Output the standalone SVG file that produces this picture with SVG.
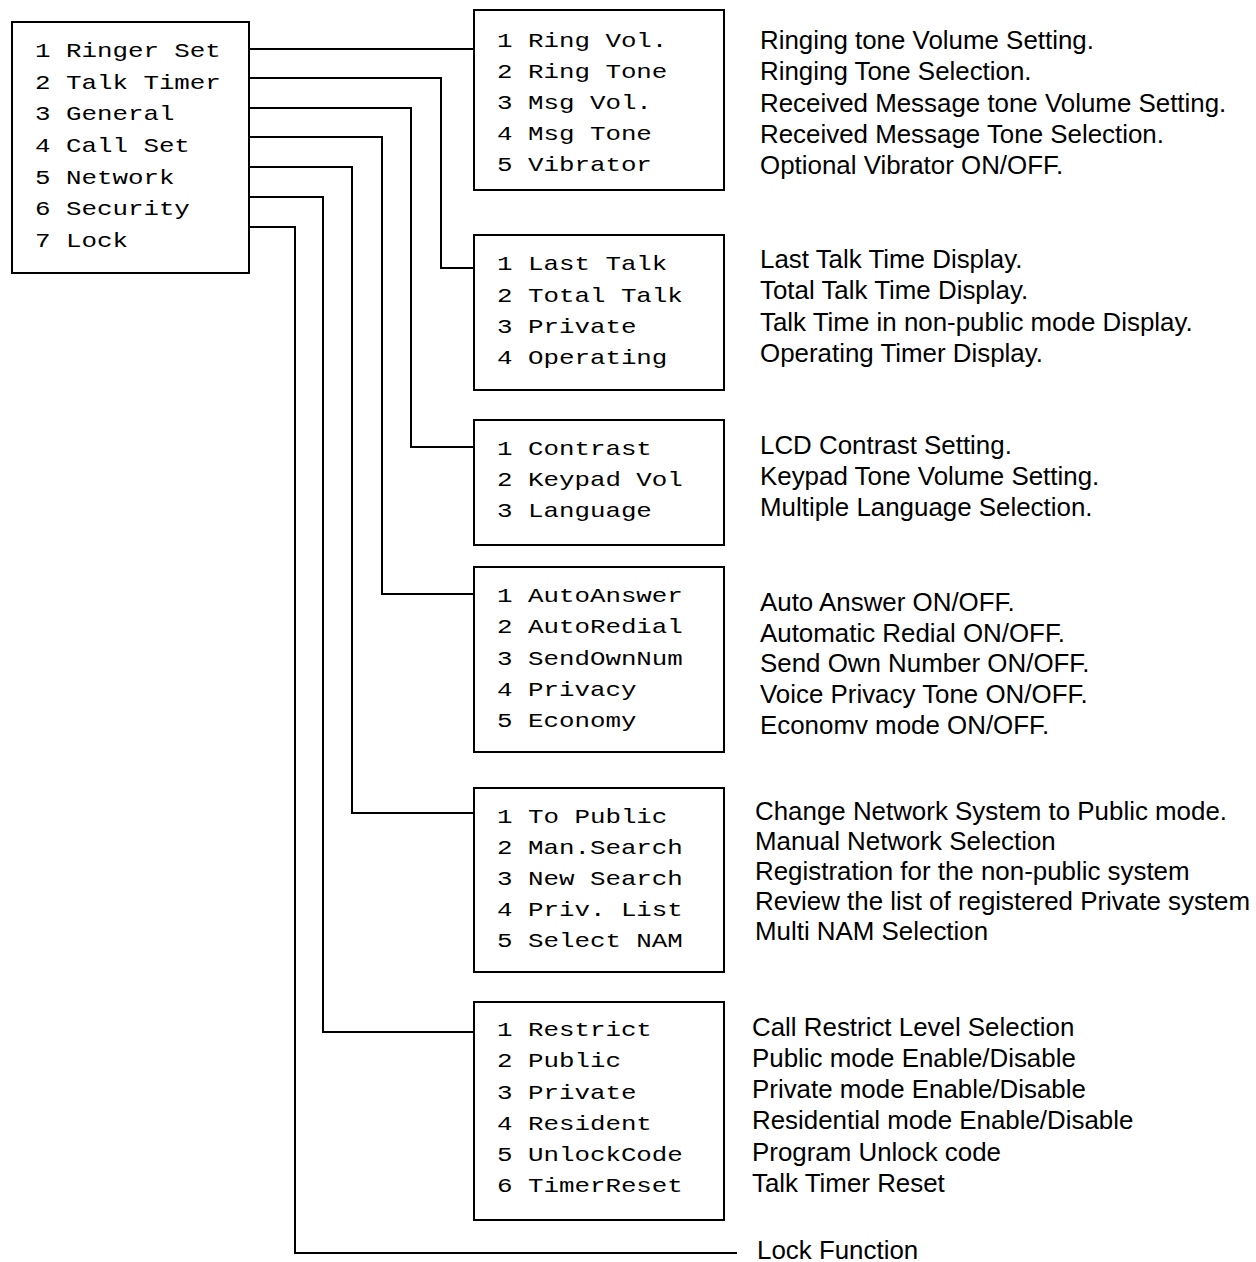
<svg xmlns="http://www.w3.org/2000/svg" width="1256" height="1262" viewBox="0 0 1256 1262">
  <style>
    .box { fill: #fff; stroke: #000; stroke-width: 2; }
    .wire { fill: none; stroke: #000; stroke-width: 2; }
    .lcd { font-family: "Liberation Mono", "DejaVu Sans Mono", monospace; font-size: 21px; fill: #000; }
    .desc { font-family: "Liberation Sans", Arial, sans-serif; font-size: 25.9px; fill: #000; }
  </style>

  <!-- connectors from the main menu to each sub-menu -->
  <g id="connectors">
    <path class="wire" d="M249,49 H474"/>
    <path class="wire" d="M249,78 H441 V268 H474"/>
    <path class="wire" d="M249,108 H411 V447 H474"/>
    <path class="wire" d="M249,137 H382 V594 H474"/>
    <path class="wire" d="M249,167 H352 V813 H474"/>
    <path class="wire" d="M249,197 H323 V1032 H474"/>
    <path class="wire" d="M249,227 H295 V1253 H737"/>
  </g>

  <!-- main menu (LCD lines are widened to the display's character pitch) -->
  <g id="main-menu">
    <rect class="box" x="12" y="22" width="237" height="251"/>
    <g transform="translate(35,0) scale(1.23,1)">
      <text class="lcd" x="0" y="57">1 Ringer Set</text>
      <text class="lcd" x="0" y="89">2 Talk Timer</text>
      <text class="lcd" x="0" y="120">3 General</text>
      <text class="lcd" x="0" y="152">4 Call Set</text>
      <text class="lcd" x="0" y="184">5 Network</text>
      <text class="lcd" x="0" y="215">6 Security</text>
      <text class="lcd" x="0" y="247">7 Lock</text>
    </g>
  </g>

  <!-- 1 Ringer Set -->
  <g id="ringer-set">
    <rect class="box" x="474" y="10" width="250" height="180"/>
    <g transform="translate(497,0) scale(1.23,1)">
      <text class="lcd" x="0" y="47">1 Ring Vol.</text>
      <text class="lcd" x="0" y="78">2 Ring Tone</text>
      <text class="lcd" x="0" y="109">3 Msg Vol.</text>
      <text class="lcd" x="0" y="140">4 Msg Tone</text>
      <text class="lcd" x="0" y="171">5 Vibrator</text>
    </g>
  </g>
  <g id="ringer-set-desc">
    <text class="desc" x="760" y="49">Ringing tone Volume Setting.</text>
    <text class="desc" x="760" y="80">Ringing Tone Selection.</text>
    <text class="desc" x="760" y="112">Received Message tone Volume Setting.</text>
    <text class="desc" x="760" y="143">Received Message Tone Selection.</text>
    <text class="desc" x="760" y="174">Optional Vibrator ON/OFF.</text>
  </g>

  <!-- 2 Talk Timer -->
  <g id="talk-timer">
    <rect class="box" x="474" y="235" width="250" height="155"/>
    <g transform="translate(497,0) scale(1.23,1)">
      <text class="lcd" x="0" y="270">1 Last Talk</text>
      <text class="lcd" x="0" y="302">2 Total Talk</text>
      <text class="lcd" x="0" y="333">3 Private</text>
      <text class="lcd" x="0" y="364">4 Operating</text>
    </g>
  </g>
  <g id="talk-timer-desc">
    <text class="desc" x="760" y="268">Last Talk Time Display.</text>
    <text class="desc" x="760" y="299">Total Talk Time Display.</text>
    <text class="desc" x="760" y="331">Talk Time in non-public mode Display.</text>
    <text class="desc" x="760" y="362">Operating Timer Display.</text>
  </g>

  <!-- 3 General -->
  <g id="general">
    <rect class="box" x="474" y="420" width="250" height="125"/>
    <g transform="translate(497,0) scale(1.23,1)">
      <text class="lcd" x="0" y="455">1 Contrast</text>
      <text class="lcd" x="0" y="486">2 Keypad Vol</text>
      <text class="lcd" x="0" y="517">3 Language</text>
    </g>
  </g>
  <g id="general-desc">
    <text class="desc" x="760" y="454">LCD Contrast Setting.</text>
    <text class="desc" x="760" y="485">Keypad Tone Volume Setting.</text>
    <text class="desc" x="760" y="516">Multiple Language Selection.</text>
  </g>

  <!-- 4 Call Set -->
  <g id="call-set">
    <rect class="box" x="474" y="567" width="250" height="185"/>
    <g transform="translate(497,0) scale(1.23,1)">
      <text class="lcd" x="0" y="602">1 AutoAnswer</text>
      <text class="lcd" x="0" y="633">2 AutoRedial</text>
      <text class="lcd" x="0" y="665">3 SendOwnNum</text>
      <text class="lcd" x="0" y="696">4 Privacy</text>
      <text class="lcd" x="0" y="727">5 Economy</text>
    </g>
  </g>
  <g id="call-set-desc">
    <text class="desc" x="760" y="611">Auto Answer ON/OFF.</text>
    <text class="desc" x="760" y="642">Automatic Redial ON/OFF.</text>
    <text class="desc" x="760" y="672">Send Own Number ON/OFF.</text>
    <text class="desc" x="760" y="703">Voice Privacy Tone ON/OFF.</text>
    <text class="desc" x="760" y="734">Economv mode ON/OFF.</text>
  </g>

  <!-- 5 Network -->
  <g id="network">
    <rect class="box" x="474" y="788" width="250" height="184"/>
    <g transform="translate(497,0) scale(1.23,1)">
      <text class="lcd" x="0" y="823">1 To Public</text>
      <text class="lcd" x="0" y="854">2 Man.Search</text>
      <text class="lcd" x="0" y="885">3 New Search</text>
      <text class="lcd" x="0" y="916">4 Priv. List</text>
      <text class="lcd" x="0" y="947">5 Select NAM</text>
    </g>
  </g>
  <g id="network-desc">
    <text class="desc" x="755" y="820">Change Network System to Public mode.</text>
    <text class="desc" x="755" y="850">Manual Network Selection</text>
    <text class="desc" x="755" y="880">Registration for the non-public system</text>
    <text class="desc" x="755" y="910">Review the list of registered Private system</text>
    <text class="desc" x="755" y="940">Multi NAM Selection</text>
  </g>

  <!-- 6 Security -->
  <g id="security">
    <rect class="box" x="474" y="1002" width="250" height="218"/>
    <g transform="translate(497,0) scale(1.23,1)">
      <text class="lcd" x="0" y="1036">1 Restrict</text>
      <text class="lcd" x="0" y="1067">2 Public</text>
      <text class="lcd" x="0" y="1099">3 Private</text>
      <text class="lcd" x="0" y="1130">4 Resident</text>
      <text class="lcd" x="0" y="1161">5 UnlockCode</text>
      <text class="lcd" x="0" y="1192">6 TimerReset</text>
    </g>
  </g>
  <g id="security-desc">
    <text class="desc" x="752" y="1036">Call Restrict Level Selection</text>
    <text class="desc" x="752" y="1067">Public mode Enable/Disable</text>
    <text class="desc" x="752" y="1098">Private mode Enable/Disable</text>
    <text class="desc" x="752" y="1129">Residential mode Enable/Disable</text>
    <text class="desc" x="752" y="1161">Program Unlock code</text>
    <text class="desc" x="752" y="1192">Talk Timer Reset</text>
  </g>

  <!-- 7 Lock -->
  <g id="lock">
    <text class="desc" x="757" y="1259">Lock Function</text>
  </g>
</svg>
